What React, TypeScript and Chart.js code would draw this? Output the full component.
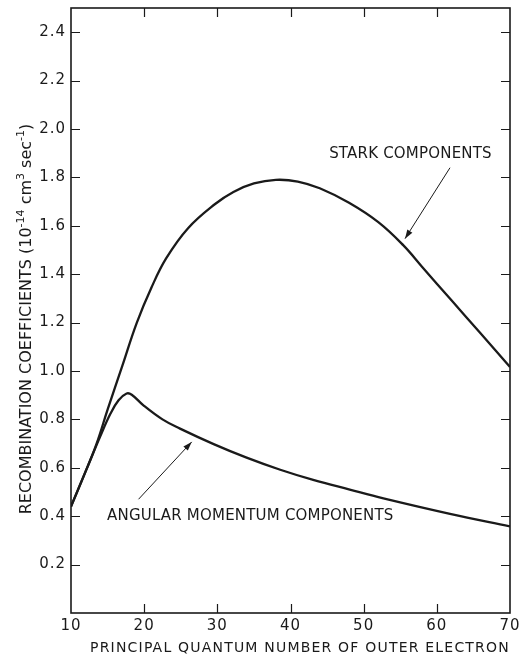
import React, { useEffect, useRef } from "react";
import { Chart, registerables } from "chart.js";

Chart.register(...registerables);

// Principal quantum number (x) and recombination coefficients (y, 10^-14 cm^3 sec^-1)
const starkN = [10, 12, 13.5, 15, 17, 19, 21, 23, 26, 29.7, 32.2, 35, 38, 41, 44, 48, 52, 55.4, 58, 62, 66, 70];
const starkV = [0.44, 0.585, 0.7, 0.84, 1.02, 1.2, 1.345, 1.465, 1.59, 1.69, 1.74, 1.775, 1.79, 1.783, 1.755, 1.695, 1.615, 1.52, 1.43, 1.292, 1.155, 1.017];

const angularN = [10, 12, 14, 15.4, 16.5, 17.6, 18.3, 19.9, 22.5, 24.9, 29.5, 34, 38.6, 43.1, 48.1, 52.7, 61.8, 70];
const angularV = [0.44, 0.585, 0.73, 0.824, 0.879, 0.907, 0.902, 0.858, 0.8, 0.762, 0.698, 0.642, 0.592, 0.55, 0.51, 0.474, 0.41, 0.358];

const xTickValues = [10, 20, 30, 40, 50, 60, 70];
const yTickValues = [0.2, 0.4, 0.6, 0.8, 1.0, 1.2, 1.4, 1.6, 1.8, 2.0, 2.2, 2.4];

const xTitle = "PRINCIPAL QUANTUM NUMBER OF OUTER ELECTRON";
const yTitleParts: { t: string; sup: boolean }[] = [
  { t: "RECOMBINATION COEFFICIENTS (10", sup: false },
  { t: "-14", sup: true },
  { t: " cm", sup: false },
  { t: "3", sup: true },
  { t: " sec", sup: false },
  { t: "-1", sup: true },
  { t: ")", sup: false },
];

const starkLabel = "STARK COMPONENTS";
const angularLabel = "ANGULAR MOMENTUM COMPONENTS";

export default function App() {
  const ref = useRef<HTMLCanvasElement>(null);

  useEffect(() => {
    const canvas = ref.current;
    if (!canvas) return;
    const ink = "#1a1a1a";
    const font = '"DejaVu Sans", "Liberation Sans", sans-serif';

    const arrow = (ctx: CanvasRenderingContext2D, x1: number, y1: number, x2: number, y2: number) => {
      ctx.beginPath();
      ctx.moveTo(x1, y1);
      ctx.lineTo(x2, y2);
      ctx.lineWidth = 1;
      ctx.stroke();
      const ang = Math.atan2(y2 - y1, x2 - x1);
      const L = 9, W = 3;
      ctx.beginPath();
      ctx.moveTo(x2, y2);
      ctx.lineTo(x2 - L * Math.cos(ang) + W * Math.sin(ang), y2 - L * Math.sin(ang) - W * Math.cos(ang));
      ctx.lineTo(x2 - L * Math.cos(ang) - W * Math.sin(ang), y2 - L * Math.sin(ang) + W * Math.cos(ang));
      ctx.closePath();
      ctx.fill();
    };

    const decor = {
      id: "decor",
      beforeDraw(chart: any) {
        (chart.ctx as any).letterSpacing = "1px";
      },
      afterDraw(chart: any) {
        const ctx: CanvasRenderingContext2D = chart.ctx;
        const { left, right, top, bottom } = chart.chartArea;
        const xs = chart.scales.x;
        const ys = chart.scales.y;
        ctx.save();
        (ctx as any).letterSpacing = "0px";
        ctx.strokeStyle = ink;
        ctx.fillStyle = ink;

        // frame
        ctx.lineWidth = 1.6;
        ctx.strokeRect(left, top, right - left, bottom - top);

        // inward ticks on all four sides
        ctx.lineWidth = 1.2;
        ctx.beginPath();
        for (const v of yTickValues) {
          const py = Math.round(ys.getPixelForValue(v)) + 0.5;
          ctx.moveTo(left, py);
          ctx.lineTo(left + 9, py);
          ctx.moveTo(right, py);
          ctx.lineTo(right - 9, py);
        }
        for (const v of xTickValues) {
          if (v === xs.min || v === xs.max) continue;
          const px = Math.round(xs.getPixelForValue(v)) + 0.5;
          ctx.moveTo(px, bottom);
          ctx.lineTo(px, bottom - 9);
          ctx.moveTo(px, top);
          ctx.lineTo(px, top + 9);
        }
        ctx.stroke();

        // annotations
        ctx.font = `15px ${font}`;
        ctx.textBaseline = "middle";
        ctx.textAlign = "left";
        (ctx as any).letterSpacing = "0.2px";
        ctx.fillText(starkLabel, xs.getPixelForValue(45.28), ys.getPixelForValue(1.895));
        ctx.fillText(angularLabel, xs.getPixelForValue(14.92), ys.getPixelForValue(0.4));
        (ctx as any).letterSpacing = "0px";
        arrow(ctx, xs.getPixelForValue(61.8), ys.getPixelForValue(1.84), xs.getPixelForValue(55.65), ys.getPixelForValue(1.547));
        arrow(ctx, xs.getPixelForValue(19.23), ys.getPixelForValue(0.47), xs.getPixelForValue(26.5), ys.getPixelForValue(0.707));

        // x-axis title
        ctx.font = `14px ${font}`;
        (ctx as any).letterSpacing = "1.2px";
        ctx.textAlign = "left";
        ctx.textBaseline = "middle";
        ctx.fillText(xTitle, left + 19, 648);

        // y-axis title (rotated, with superscripts)
        (ctx as any).letterSpacing = "0px";
        const mainFont = `16px ${font}`;
        const supFont = `11px ${font}`;
        let total = 0;
        for (const p of yTitleParts) {
          ctx.font = p.sup ? supFont : mainFont;
          total += ctx.measureText(p.t).width;
        }
        ctx.translate(27, 319 + total / 2);
        ctx.rotate(-Math.PI / 2);
        let cx = 0;
        for (const p of yTitleParts) {
          ctx.font = p.sup ? supFont : mainFont;
          ctx.fillText(p.t, cx, p.sup ? -6 : 0);
          cx += ctx.measureText(p.t).width;
        }
        ctx.restore();
      },
    };

    const chart = new Chart(canvas, {
      type: "line",
      data: {
        datasets: [
          {
            label: "Stark components",
            data: starkN.map((n, i) => ({ x: n, y: starkV[i] })),
            borderColor: ink,
            borderWidth: 2.3,
            pointRadius: 0,
            tension: 0.4,
            fill: false,
          },
          {
            label: "Angular momentum components",
            data: angularN.map((n, i) => ({ x: n, y: angularV[i] })),
            borderColor: ink,
            borderWidth: 2.3,
            pointRadius: 0,
            tension: 0.4,
            fill: false,
          },
        ],
      },
      options: {
        responsive: false,
        animation: false,
        layout: { padding: { left: 0, right: 13, top: 8, bottom: 0 } },
        plugins: { legend: { display: false }, tooltip: { enabled: false } },
        scales: {
          x: {
            type: "linear",
            min: 10,
            max: 70,
            afterBuildTicks: (s: any) => {
              s.ticks = xTickValues.map((v) => ({ value: v }));
            },
            afterFit: (s: any) => {
              s.height = 47;
              s.paddingLeft = 0;
              s.paddingRight = 0;
            },
            grid: { display: false, drawTicks: false },
            border: { display: false },
            ticks: {
              padding: 4,
              color: ink,
              autoSkip: false,
              maxRotation: 0,
              font: { family: font, size: 15 },
              callback: (v: any) => String(v),
            },
          },
          y: {
            type: "linear",
            min: 0,
            max: 2.5,
            afterBuildTicks: (s: any) => {
              s.ticks = yTickValues.map((v) => ({ value: v }));
            },
            afterFit: (s: any) => {
              s.width = 71;
              s.paddingTop = 0;
              s.paddingBottom = 0;
            },
            grid: { display: false, drawTicks: false },
            border: { display: false },
            ticks: {
              padding: 5,
              color: ink,
              autoSkip: false,
              font: { family: font, size: 15 },
              callback: (v: any) => Number(v).toFixed(1),
            },
          },
        },
      },
      plugins: [decor],
    } as any);

    return () => chart.destroy();
  }, []);

  return (
    <div style={{ position: "absolute", left: 0, top: 0, width: 523, height: 660, background: "#fff" }}>
      <canvas ref={ref} width={523} height={660} style={{ display: "block" }} />
    </div>
  );
}
